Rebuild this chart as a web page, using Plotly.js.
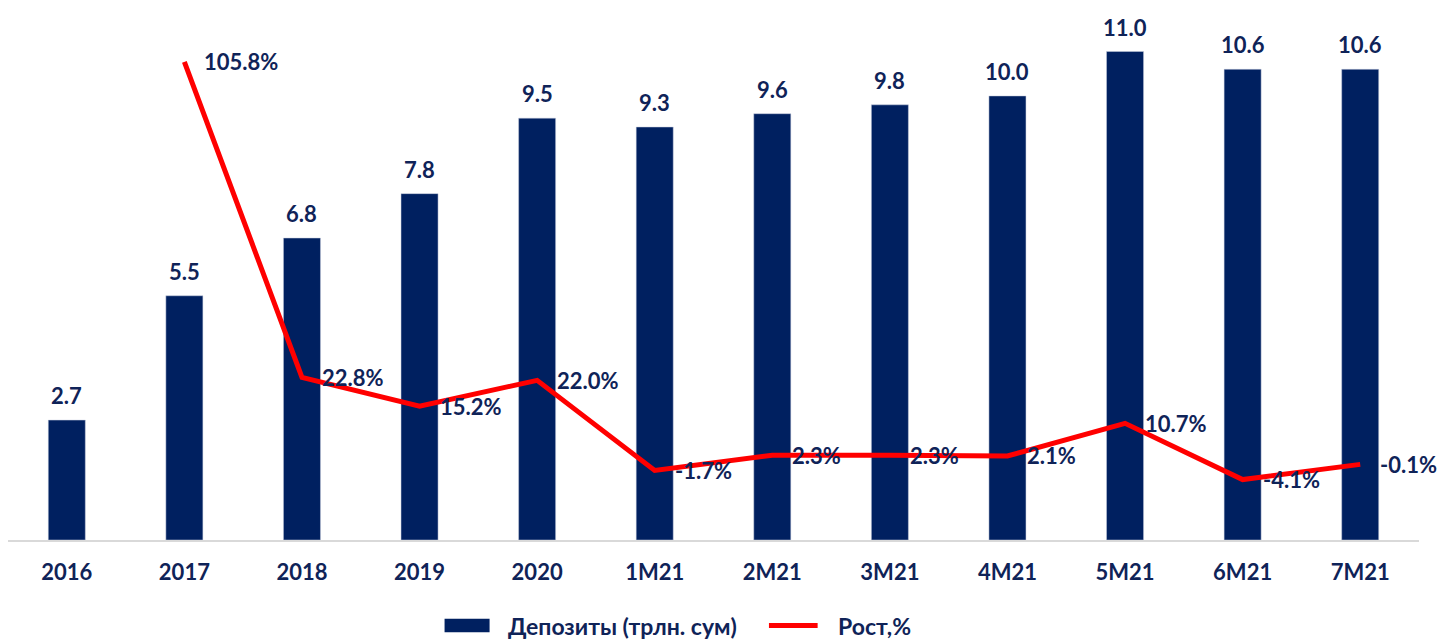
<!DOCTYPE html>
<html><head><meta charset="utf-8">
<script src="https://cdn.plot.ly/plotly-3.0.1.min.js"></script>
<style>html,body{margin:0;padding:0;background:#fff}#chart{width:1443px;height:639px}</style>
</head><body><div id="chart"></div>
<script>
const categories = ["2016","2017","2018","2019","2020","1M21","2M21","3M21","4M21","5M21","6M21","7M21"];
const deposits = [2.7,5.5,6.8,7.8,9.5,9.3,9.6,9.8,10.0,11.0,10.6,10.6];
const growth = [null,105.8,22.8,15.2,22.0,-1.7,2.3,2.3,2.1,10.7,-4.1,-0.1];
const depositLabels = ["2.7","5.5","6.8","7.8","9.5","9.3","9.6","9.8","10.0","11.0","10.6","10.6"];
const growthLabels = [null,"105.8%","22.8%","15.2%","22.0%","-1.7%","2.3%","2.3%","2.1%","10.7%","-4.1%","-0.1%"];
const seriesNames = ["Депозиты (трлн. сум)","Рост,%"];

const navy = "#002060";
const textColor = "#0f2358";
const font = "Lato, 'Open Sans', sans-serif";
const fs = 22;

const idx = categories.map((c,i)=>i);
const annotations = [];
idx.forEach(i=>{
  annotations.push({x:i,y:deposits[i],xref:"x",yref:"y",text:"<b>"+depositLabels[i]+"</b>",
    showarrow:false,yanchor:"bottom",yshift:9,font:{family:font,size:fs,color:textColor}});
  if (growth[i]!==null) {
    annotations.push({x:i,y:growth[i],xref:"x",yref:"y2",text:"<b>"+growthLabels[i]+"</b>",
      showarrow:false,xanchor:"left",xshift:18,yshift:0,font:{family:font,size:fs,color:textColor}});
  }
});

// custom legend (paper coords)
const shapes = [
  {type:"rect",xref:"paper",yref:"paper",x0:0.3094,x1:0.3413,y0:-0.1775,y1:-0.1515,fillcolor:navy,line:{width:0}},
  {type:"line",xref:"paper",yref:"paper",x0:0.5393,x1:0.5738,y0:-0.1645,y1:-0.1645,line:{color:"#ff0000",width:5}}
];
annotations.push({xref:"paper",yref:"paper",x:0.3526,y:-0.1645,xanchor:"left",yanchor:"middle",showarrow:false,
  text:"<b>"+seriesNames[0]+"</b>",font:{family:font,size:23,color:textColor}});
annotations.push({xref:"paper",yref:"paper",x:0.5865,y:-0.1645,xanchor:"left",yanchor:"middle",showarrow:false,
  text:"<b>"+seriesNames[1]+"</b>",font:{family:font,size:23,color:textColor}});

const data = [
  {type:"bar",x:idx,y:deposits,name:seriesNames[0],marker:{color:navy,line:{color:"#c8cfdf",width:0.5}},width:0.315},
  {type:"scatter",mode:"lines",x:idx,y:growth,yaxis:"y2",name:seriesNames[1],line:{color:"#ff0000",width:5},connectgaps:false}
];

const layout = {
  width:1443,height:639,
  margin:{l:8,r:24,t:20,b:99},
  paper_bgcolor:"#fff",plot_bgcolor:"#fff",
  showlegend:false,
  xaxis:{range:[-0.5,11.5],showline:true,linecolor:"#d9d9d9",linewidth:2,ticks:"",ticklabelstandoff:12,
    tickmode:"array",tickvals:idx,ticktext:categories.map(c=>"<b>"+c+"</b>"),
    tickfont:{family:font,size:fs,color:textColor},showgrid:false,zeroline:false},
  yaxis:{range:[0,11.71],showticklabels:false,showgrid:false,zeroline:false,showline:false},
  yaxis2:{range:[-20,116.8],overlaying:"y",side:"right",showticklabels:false,showgrid:false,zeroline:false,showline:false},
  shapes:shapes,
  annotations:annotations
};

Plotly.newPlot("chart",data,layout,{displayModeBar:false,staticPlot:true});
</script></body></html>
